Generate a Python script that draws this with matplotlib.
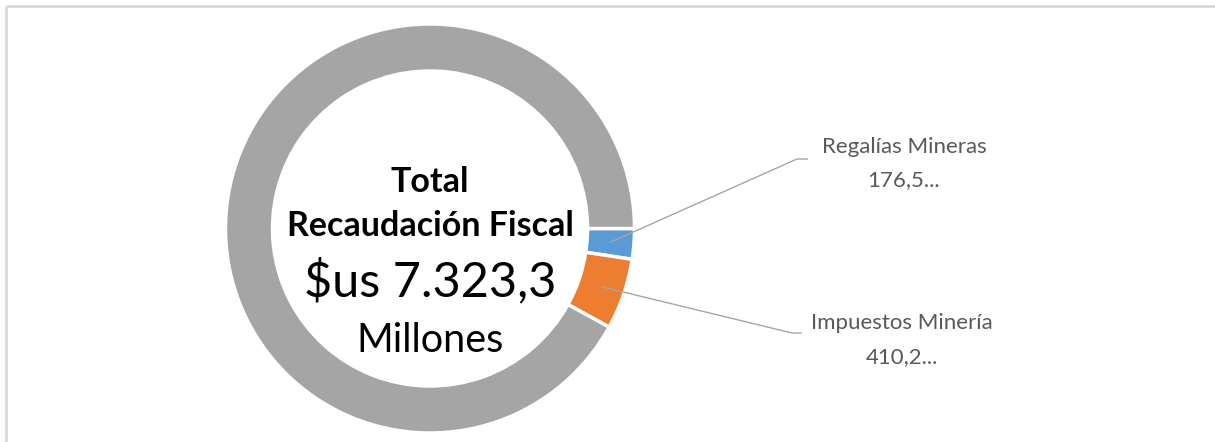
import matplotlib
matplotlib.use("Agg")
import matplotlib.pyplot as plt
import numpy as np

# Data
categories = ["Regalías Mineras", "Impuestos Minería", "Otros"]
values = [176.5, 410.2, 6736.6]
label_texts = ["176,5...", "410,2..."]
colors = ["#5B9BD5", "#ED7D31", "#A5A5A5"]
center_lines = ["Total", "Recaudación Fiscal", "$us 7.323,3", "Millones"]

W, H = 1215, 442
fig = plt.figure(figsize=(W / 100, H / 100), dpi=100)
ax = fig.add_axes([0, 0, 1, 1])

def Y(y):  # convert image row to data y
    return H - y

cx, cy = 430, Y(228.5)
R, ring = 204.5, 47
wedges, _ = ax.pie(values, colors=colors, startangle=0, counterclock=False,
                   center=(cx, cy), radius=R,
                   wedgeprops=dict(width=ring, edgecolor="white", linewidth=2.5))
ax.set_xlim(0, W)
ax.set_ylim(0, H)
ax.set_aspect("equal")
ax.axis("off")

# leader lines and labels
font = "Lato"
ends = [((797, 159), (808, 159), (904, 147), (904, 180)),
        ((792, 333), (802, 333), (902, 323), (902, 357))]
for i in range(2):
    w = wedges[i]
    ang = np.deg2rad((w.theta1 + w.theta2) / 2)
    rm = R - ring / 2
    sx, sy = cx + rm * np.cos(ang), cy + rm * np.sin(ang)
    (ex, ey), (hx, hy), (t1x, t1y), (t2x, t2y) = ends[i]
    ax.plot([sx, ex, hx], [sy, Y(ey), Y(hy)], color="#A6A6A6", lw=1, solid_capstyle="butt")
    ax.text(t1x, Y(t1y), categories[i], ha="center", va="center",
            fontsize=16, color="#595959", family=font)
    ax.text(t2x, Y(t2y), label_texts[i], ha="center", va="center",
            fontsize=16, color="#595959", family=font)

# center text
ax.text(cx, Y(182), center_lines[0], ha="center", va="center", fontsize=24.5,
        fontweight="bold", color="black", family=font)
ax.text(cx, Y(226), center_lines[1], ha="center", va="center", fontsize=24.5,
        fontweight="bold", color="black", family=font)
ax.text(cx, Y(281), center_lines[2], ha="center", va="center", fontsize=35,
        color="black", family=font)
ax.text(cx, Y(341), center_lines[3], ha="center", va="center", fontsize=28.5,
        color="black", family=font)

# frame (top and left edges)
ax.plot([6, W], [Y(6), Y(6)], color="#D9D9D9", lw=2, solid_capstyle="butt")
ax.plot([6, 6], [Y(6), 0], color="#D9D9D9", lw=2, solid_capstyle="butt")

fig.savefig("out.png", dpi=100, facecolor="white")
